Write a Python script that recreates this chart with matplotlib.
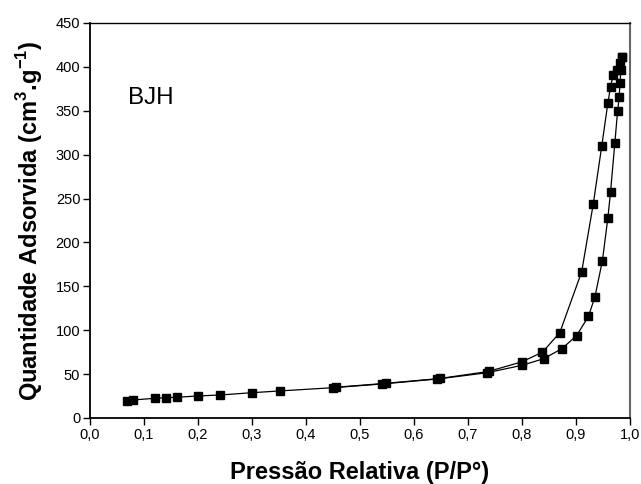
import matplotlib
matplotlib.use("Agg")
import matplotlib.pyplot as plt

plt.rcParams['font.family'] = ['Liberation Sans', 'DejaVu Sans']
plt.rcParams['mathtext.fontset'] = 'custom'
plt.rcParams['mathtext.rm'] = 'Liberation Sans'
plt.rcParams['mathtext.bf'] = 'Liberation Sans:bold'

# Adsorption branch
p_ads = [0.068, 0.079, 0.120, 0.140, 0.161, 0.200, 0.241, 0.300, 0.351, 0.450,
         0.540, 0.643, 0.735, 0.800, 0.840, 0.874, 0.901, 0.923, 0.935, 0.949,
         0.959, 0.964, 0.972, 0.977, 0.980, 0.9815, 0.9833, 0.9846]
v_ads = [19.7, 20.5, 22.4, 23.1, 23.6, 25.1, 26.2, 28.8, 30.8, 34.5,
         38.7, 44.4, 51.5, 60.0, 67.5, 79.0, 93.7, 115.7, 137.7, 179.4,
         227.6, 257.4, 313.6, 349.2, 365.3, 381.3, 396.4, 411.6]
# Desorption branch
p_des = [0.9846, 0.9815, 0.9754, 0.969, 0.964, 0.959, 0.9476, 0.932, 0.9106, 0.870,
         0.838, 0.800, 0.738, 0.648, 0.548, 0.455]
v_des = [411.6, 404.0, 397.0, 390.7, 377.4, 358.5, 309.3, 243.8, 166.7, 97.2,
         75.0, 64.0, 53.0, 45.0, 39.5, 35.0]

x_ticks = [0.0, 0.1, 0.2, 0.3, 0.4, 0.5, 0.6, 0.7, 0.8, 0.9, 1.0]
x_tick_labels = ["0,0", "0,1", "0,2", "0,3", "0,4", "0,5", "0,6", "0,7", "0,8", "0,9", "1,0"]
y_ticks = [0, 50, 100, 150, 200, 250, 300, 350, 400, 450]

fig = plt.figure(figsize=(6.41, 4.84), dpi=100)
ax = fig.add_axes([0.1404, 0.1364, 0.8424, 0.8161])

for px, vy in ((p_ads, v_ads), (p_des, v_des)):
    ax.plot(px, vy, color='black', lw=0.9, marker='s', ms=6,
            markerfacecolor='black', markeredgecolor='black')

ax.set_xlim(0.0, 1.0)
ax.set_ylim(0, 450)
ax.set_xticks(x_ticks)
ax.set_xticklabels(x_tick_labels)
ax.set_yticks(y_ticks)
ax.tick_params(direction='out', length=5, width=1, labelsize=10.5, top=False, right=False, pad=2)
for s in ['left', 'bottom']:
    ax.spines[s].set_linewidth(1.3)
ax.spines['top'].set_linewidth(1.0)
ax.spines['right'].set_linewidth(1.5)
ax.spines['right'].set_color('#666666')

ax.set_xlabel("Pressão Relativa (P/P°)", fontsize=17, fontweight='bold', labelpad=14)
ax.set_ylabel(r"Quantidade Adsorvida (cm$^\mathbf{3}$.g$^\mathbf{-1}$)", fontsize=17,
              fontweight='bold', labelpad=8)

ax.text(0.07, 364, "BJH", fontsize=17.5, ha='left', va='center')

fig.savefig("out.png", dpi=100)
